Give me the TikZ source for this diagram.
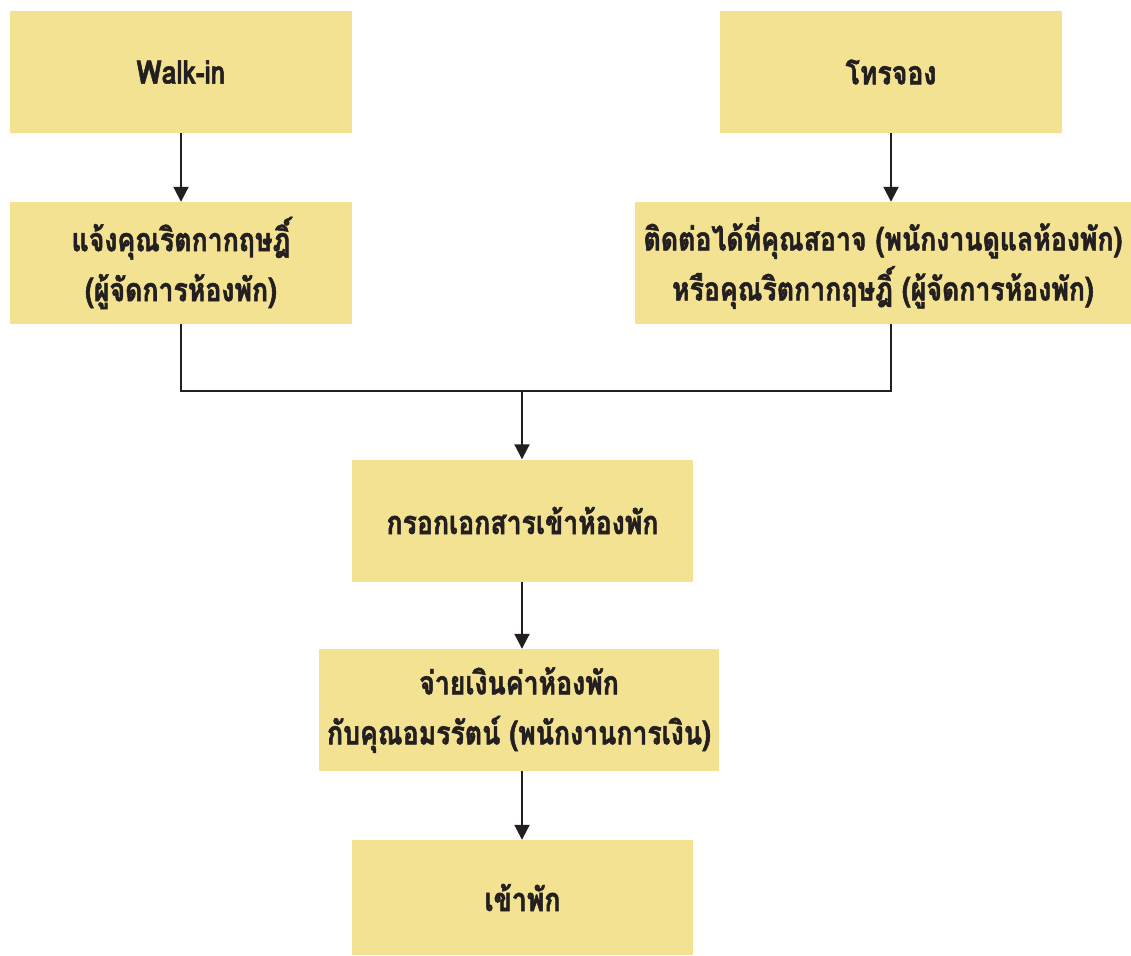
\documentclass[tikz,border=0pt]{standalone}
\usepackage{fontspec}
\newfontfamily\thaifont[Script=Thai,FakeStretch=0.82,BoldFeatures={FakeBold=1.6}]{Loma}
\usepackage{tikz}
\usetikzlibrary{arrows.meta,positioning}
\definecolor{caixacor}{RGB}{242,226,145}
\definecolor{textocor}{RGB}{35,31,32}

\begin{document}
\begin{tikzpicture}[
x=1pt, y=-1pt,
passo/.style={
rectangle,
fill=caixacor,
align=center,
inner sep=0pt,
minimum width=342pt,
minimum height=122pt,
text=textocor,
font=\thaifont\bfseries\fontsize{32.5}{50}\selectfont
},
seta/.style={-{Triangle[length=15pt,width=15pt]}, line width=2pt, draw=textocor},
linha/.style={line width=2pt, draw=textocor}
]
\useasboundingbox (0,0) rectangle (1131,955);

\node[passo] (walkin) at (181,72) {Walk-in};
\node[passo] (telefone) at (891,72) {โทรจอง};

\node[passo] (avisar) at (181,263) {แจ้งคุณริตกากฤษฎิ์\\(ผู้จัดการห้องพัก)};
\node[passo, minimum width=496pt] (contato) at (883,263) {ติดต่อได้ที่คุณสอาจ (พนักงานดูแลห้องพัก)\\หรือคุณริตกากฤษฎิ์ (ผู้จัดการห้องพัก)};

\coordinate (junta) at (522,391);

\node[passo, minimum width=341pt] (ficha) at (522.5,520.5) {กรอกเอกสารเข้าห้องพัก};
\node[passo, minimum width=400pt] (pagar) at (519,710) {จ่ายเงินค่าห้องพัก\\กับคุณอมรรัตน์ (พนักงานการเงิน)};
\node[passo, minimum width=341pt, minimum height=115pt] (entrada) at (522.5,897.5) {เข้าพัก};

\draw[seta] (walkin) -- (avisar);
\draw[seta] (telefone.south) -- (telefone.south |- contato.north);

\draw[linha] (avisar.south) |- (junta);
\draw[linha] (telefone.south |- contato.south) |- (junta);
\draw[seta] (junta) -- (junta |- ficha.north);

\draw[seta] (junta |- ficha.south) -- (junta |- pagar.north);
\draw[seta] (junta |- pagar.south) -- (junta |- entrada.north);

\end{tikzpicture}
\end{document}
